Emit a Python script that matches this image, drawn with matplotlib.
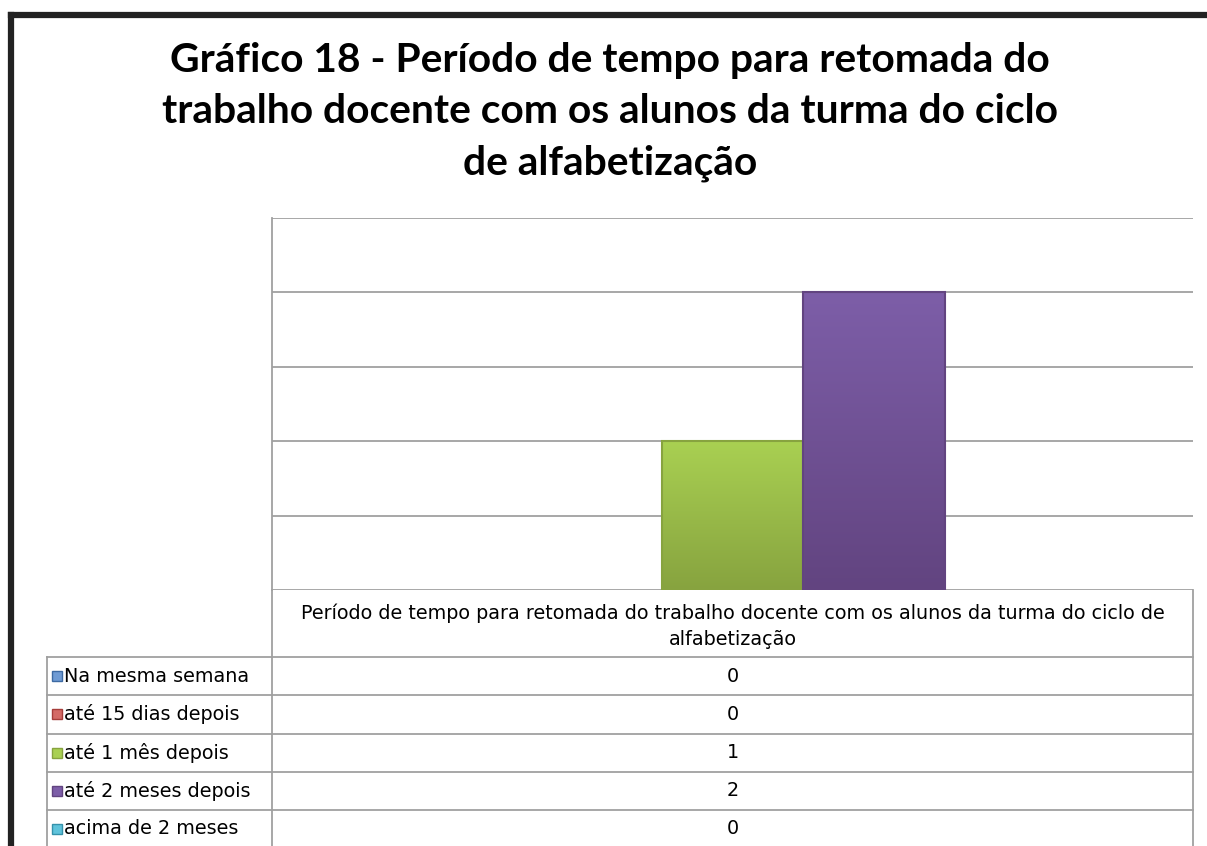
import matplotlib.pyplot as plt
import numpy as np
from matplotlib.colors import LinearSegmentedColormap

W, H = 1207, 846

titulo = "Gráfico 18 - Período de tempo para retomada do\ntrabalho docente com os alunos da turma do ciclo\nde alfabetização"
categoria = "Período de tempo para retomada do trabalho docente com os alunos da turma do ciclo de\nalfabetização"
series = ["Na mesma semana", "até 15 dias depois", "até 1 mês depois",
          "até 2 meses depois", "acima de 2 meses"]
valores = [0, 0, 1, 2, 0]
cores_top = ["#6f9bd4", "#d46a66", "#a9d052", "#7d5ea8", "#5fc3db"]
cores_bot = ["#3d6aa3", "#a63d3a", "#87a33f", "#624480", "#3592ab"]

plt.rcParams['font.family'] = ['Lato', 'DejaVu Sans']
fonte_tabela = ['DejaVu Sans']

fig = plt.figure(figsize=(W / 100, H / 100), dpi=100)

def px(x0, y0, x1, y1):
    # caixa em pixels -> fracao da figura
    return [x0 / W, 1 - y1 / H, (x1 - x0) / W, (y1 - y0) / H]

# --- area do grafico ---
ax = fig.add_axes(px(272, 218, 1193, 590))
ax.set_yticks(np.arange(0, 2.51, 0.5))
ax.yaxis.grid(True, color="#a0a0a0", lw=1.3)
ax.set_axisbelow(True)
ax.tick_params(left=False, bottom=False, labelleft=False, labelbottom=False)
for s in ["top", "right", "bottom"]:
    ax.spines[s].set_visible(False)
ax.spines["left"].set_color("#a0a0a0")
ax.spines["left"].set_linewidth(1.3)

x = np.arange(len(valores))
barras = ax.bar(x, valores, width=1.0, color="none", edgecolor="none")
grad = np.linspace(0, 1, 256).reshape(-1, 1)
for i, b in enumerate(barras):
    if valores[i] == 0:
        continue
    cm = LinearSegmentedColormap.from_list("g", [cores_bot[i], cores_top[i]])
    im = ax.imshow(grad, cmap=cm, aspect="auto", origin="lower",
                   extent=[b.get_x(), b.get_x() + b.get_width(), 0, valores[i]],
                   zorder=3)
    im.set_clip_path(b)
    ax.bar(b.get_x() + b.get_width() / 2, valores[i], width=1.0, color="none",
           edgecolor=cores_bot[i], lw=1.5, zorder=4)
ax.set_xlim(-1.254, 5.254)
ax.set_ylim(0, 2.5)

# --- camada em pixels para titulo, tabela e moldura ---
ov = fig.add_axes([0, 0, 1, 1])
ov.set_xlim(0, W)
ov.set_ylim(H, 0)
ov.axis("off")
ov.patch.set_alpha(0)

# moldura
ov.plot([10.5, 10.5], [15.5, H], color="#222222", lw=4.5, solid_capstyle="projecting")
ov.plot([10.5, W], [15.5, 15.5], color="#222222", lw=4.5, solid_capstyle="projecting")

ov.text(610, 112, titulo, ha="center", va="center", fontsize=29.3,
        fontweight="bold", linespacing=1.48, color="#000000")

# tabela
gc = "#a0a0a0"
linhas = [657, 695, 734, 772, 810]
ov.plot([272, 272], [590, H], color=gc, lw=1.3)
ov.plot([1193, 1193], [590, H], color=gc, lw=1.3)
ov.plot([47, 47], [657, H], color=gc, lw=1.3)
for yl in linhas:
    ov.plot([47, 1193], [yl, yl], color=gc, lw=1.3)

ov.text(733, 626, categoria, ha="center", va="center", fontsize=13.8,
        linespacing=1.45, color="#000000", family=fonte_tabela)

for i, (nome, v) in enumerate(zip(series, valores)):
    yc = linhas[i] + 19
    ov.add_patch(plt.Rectangle((52, yc - 5), 10, 10, facecolor=cores_top[i],
                               edgecolor=cores_bot[i], lw=1))
    ov.text(64, yc, nome, ha="left", va="center", fontsize=13.8,
            color="#000000", family=fonte_tabela)
    ov.text(733, yc, str(v), ha="center", va="center", fontsize=13.8,
            color="#000000", family=fonte_tabela)

fig.savefig("out.png", dpi=100)
